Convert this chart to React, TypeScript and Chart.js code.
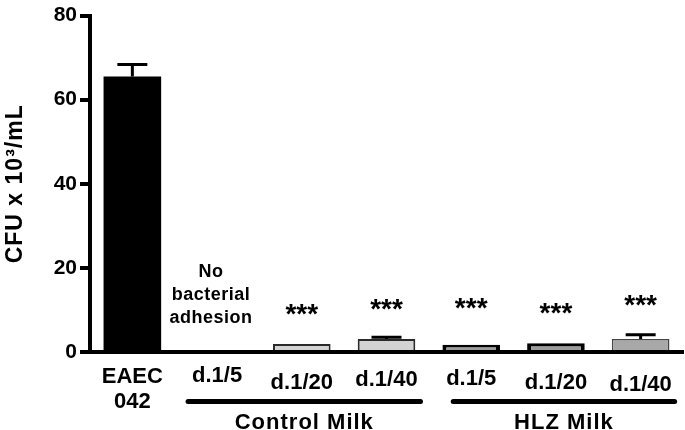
import { useEffect, useRef } from 'react';
import { Chart, registerables } from 'chart.js';

Chart.register(...registerables);

// ---- data ----
const categoryLines: string[][] = [['EAEC', '042'], ['d.1/5'], ['d.1/20'], ['d.1/40'], ['d.1/5'], ['d.1/20'], ['d.1/40']];
const cfuMean: (number | null)[] = [65.5, null, 1.9, 3.1, 1.7, 2.1, 3.1];
const cfuError: number[] = [2.9, 0, 0, 0.4, 0, 0, 1.0];
const significance: string[] = ['', '', '***', '***', '***', '***', '***'];
const starLevel: (number | null)[] = [null, null, 10.4, 11.6, 11.8, 10.6, 12.5];
const groupLabels: string[] = ['Control Milk', 'HLZ Milk'];
const groupFrom: number[] = [1, 4];
const groupTo: number[] = [3, 6];
const noAdhesionLines: string[] = ['No', 'bacterial', 'adhesion'];
const noAdhesionIndex = 1;
const yMin = 0;
const yMax = 80;
const yStep = 20;
const yTitle = 'CFU x 10\u00B3/mL';

// ---- styles ----
const FONT = '"Liberation Sans", Arial, sans-serif';
const barFill = ['#000000', '#d3d3d3', '#d3d3d3', '#d3d3d3', '#9c9c9c', '#9c9c9c', '#a8a8a8'];
const barBorder = ['#000000', '#2a2a2a', '#2a2a2a', '#2a2a2a', '#000000', '#000000', '#444444'];
const barBorderWidth = [0, 2, 2, 2, 4, 4, 1.5];
const labelBaselineOffset = [31, 30, 37, 34, 33, 37, 39];
const groupLineStart = [-29, -18];
const groupLineEnd = [34, 34];

const annotationPlugin = {
  id: 'annotations',
  afterDatasetsDraw(chart: any) {
    const ctx = chart.ctx as CanvasRenderingContext2D;
    const xs = chart.scales.x;
    const ys = chart.scales.y;
    const meta = chart.getDatasetMeta(0);
    const area = chart.chartArea;
    ctx.save();
    // error bars
    ctx.strokeStyle = '#000';
    ctx.lineWidth = 3;
    cfuMean.forEach((v, i) => {
      const e = cfuError[i];
      if (v == null || !e) return;
      const el = meta.data[i];
      const x = el.x;
      const yTop = ys.getPixelForValue(v + e);
      ctx.beginPath();
      ctx.moveTo(x, el.y);
      ctx.lineTo(x, yTop);
      ctx.moveTo(x - 15, yTop);
      ctx.lineTo(x + 15, yTop);
      ctx.stroke();
    });
    // significance stars
    ctx.fillStyle = '#000';
    ctx.textAlign = 'center';
    ctx.textBaseline = 'alphabetic';
    ctx.font = `bold 28px ${FONT}`;
    significance.forEach((s, i) => {
      const lvl = starLevel[i];
      if (!s || lvl == null) return;
      const x = xs.getPixelForValue(i);
      const yc = ys.getPixelForValue(lvl);
      ctx.fillText(s, x, yc + 14.5);
    });
    // no adhesion note
    ctx.font = `bold 18px ${FONT}`;
    (ctx as any).letterSpacing = '0.5px';
    const nx = xs.getPixelForValue(noAdhesionIndex) - 6;
    noAdhesionLines.forEach((t, k) => {
      ctx.fillText(t, nx, 277 + k * 23);
    });
    (ctx as any).letterSpacing = '0px';
    // category labels
    ctx.font = `bold 22px ${FONT}`;
    categoryLines.forEach((lines, i) => {
      const x = xs.getPixelForValue(i);
      lines.forEach((t, k) => {
        ctx.fillText(t, x, area.bottom + labelBaselineOffset[i] + k * 25);
      });
    });
    // group lines & labels
    groupLabels.forEach((g, gi) => {
      const x1 = xs.getPixelForValue(groupFrom[gi]) + groupLineStart[gi];
      const x2 = xs.getPixelForValue(groupTo[gi]) + groupLineEnd[gi];
      ctx.beginPath();
      ctx.lineWidth = 5;
      ctx.lineCap = 'round';
      ctx.moveTo(x1, area.bottom + 49.5);
      ctx.lineTo(x2, area.bottom + 49.5);
      ctx.stroke();
      ctx.font = `bold 22px ${FONT}`;
      (ctx as any).letterSpacing = '1px';
      ctx.fillText(g, (x1 + x2) / 2, area.bottom + 77);
      (ctx as any).letterSpacing = '0px';
    });
    // y title
    ctx.save();
    ctx.translate(16, (area.top + area.bottom) / 2);
    ctx.rotate(-Math.PI / 2);
    ctx.font = `bold 23px ${FONT}`;
    (ctx as any).letterSpacing = '1px';
    ctx.textBaseline = 'middle';
    ctx.fillText(yTitle, 0, 0);
    ctx.restore();
    ctx.restore();
  },
};

export default function App() {
  const ref = useRef<HTMLCanvasElement | null>(null);
  useEffect(() => {
    if (!ref.current) return;
    const chart = new Chart(ref.current, {
      type: 'bar',
      data: {
        labels: categoryLines.map((l) => l.join(' ')),
        datasets: [
          {
            data: cfuMean as any,
            backgroundColor: barFill,
            borderColor: barBorder,
            borderWidth: barBorderWidth,
            barPercentage: 0.68,
            categoryPercentage: 1,
          },
        ],
      },
      options: {
        responsive: false,
        animation: false,
        layout: { padding: { top: 13, right: 2, left: 0, bottom: 0 } },
        plugins: { legend: { display: false }, tooltip: { enabled: false } },
        scales: {
          x: {
            ticks: { display: false },
            grid: { display: false },
            border: { display: true, color: '#000', width: 4 },
            afterFit: (s: any) => {
              s.height = 78;
            },
          },
          y: {
            min: yMin,
            max: yMax,
            ticks: {
              stepSize: yStep,
              color: '#000',
              padding: 3,
              font: { family: FONT, size: 21, weight: 'bold' },
            },
            grid: { drawOnChartArea: false, drawTicks: true, tickLength: 10, lineWidth: 4, color: '#000' },
            border: { display: true, color: '#000', width: 4 },
            afterFit: (s: any) => {
              s.width = 90;
            },
          },
        },
      },
      plugins: [annotationPlugin],
    });
    return () => chart.destroy();
  }, []);
  return (
    <div style={{ position: 'absolute', left: 0, top: 0, width: 685, height: 430, background: '#fff' }}>
      <canvas ref={ref} width={685} height={430} style={{ display: 'block' }} />
    </div>
  );
}
